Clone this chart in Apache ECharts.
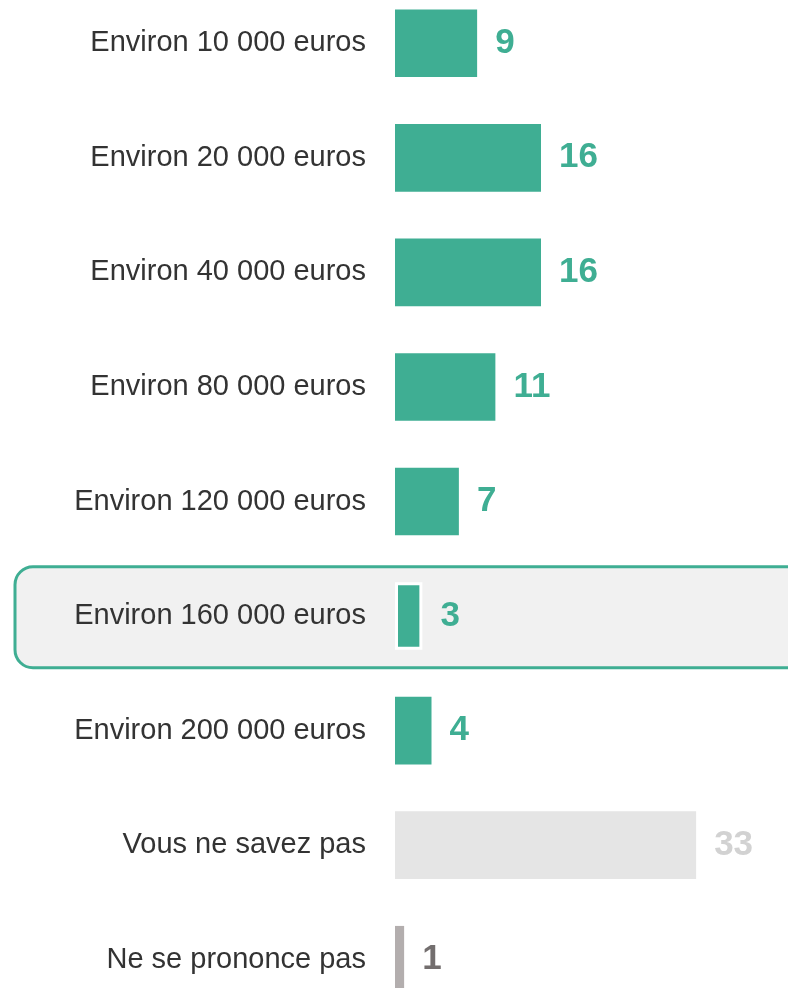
<!DOCTYPE html>
<html>
<head>
<meta charset="utf-8">
<script src="https://cdn.jsdelivr.net/npm/echarts@6/dist/echarts.min.js"></script>
<style>
html,body{margin:0;padding:0;background:#fff;}
#chart{width:788px;height:988px;}
</style>
</head>
<body>
<div id="chart"></div>
<script>
// Answer categories, top to bottom
const categories = [
  'Environ 10 000 euros',
  'Environ 20 000 euros',
  'Environ 40 000 euros',
  'Environ 80 000 euros',
  'Environ 120 000 euros',
  'Environ 160 000 euros',
  'Environ 200 000 euros',
  'Vous ne savez pas',
  'Ne se prononce pas'
];
// Share of respondents (%)
const values = [9, 16, 16, 11, 7, 3, 4, 33, 1];
// Index of the highlighted answer
const highlightIndex = 5;

const TEAL = '#3fae93';
const FONT = '"Liberation Sans", Arial, sans-serif';

function barColor(i) {
  if (i === 7) return '#e5e5e5';
  if (i === 8) return '#b3aeae';
  return TEAL;
}
function labelColor(i) {
  if (i === 7) return '#d2d2d2';
  if (i === 8) return '#736e6e';
  return TEAL;
}

const chart = echarts.init(document.getElementById('chart'), null, {renderer: 'canvas'});

const seriesData = values.map((v, i) => ({
  value: v,
  itemStyle: {
    color: barColor(i),
    borderColor: i === highlightIndex ? '#ffffff' : 'transparent',
    borderWidth: i === highlightIndex ? 3 : 0
  },
  label: { color: labelColor(i) }
}));

const gridLeft = 395, gridTop = -14, gridHeight = 1031, gridWidth = 365;
const band = gridHeight / categories.length;

chart.setOption({
  animation: false,
  backgroundColor: '#ffffff',
  graphic: [{
    type: 'rect',
    z: 0,
    shape: { x: 15, y: gridTop + band * highlightIndex + 8, width: 790, height: 101, r: 18 },
    style: { fill: '#f1f1f1', stroke: TEAL, lineWidth: 3 }
  }],
  grid: {
    left: gridLeft, top: gridTop, width: gridWidth, height: gridHeight,
    containLabel: false, outerBoundsMode: 'none'
  },
  xAxis: {
    type: 'value', min: 0, max: 40,
    show: false
  },
  yAxis: {
    type: 'category',
    inverse: true,
    data: categories,
    axisLine: { show: false },
    axisTick: { show: false },
    axisLabel: {
      margin: 29,
      fontFamily: FONT,
      fontSize: 29,
      color: '#333333',
      padding: [8, 0, 0, 0]
    }
  },
  series: [{
    type: 'bar',
    z: 5,
    data: seriesData,
    barWidth: '59%',
    label: {
      show: true,
      position: 'right',
      distance: 18,
      fontFamily: FONT,
      fontSize: 35,
      fontWeight: 'bold',
      padding: [10, 0, 0, 0]
    }
  }]
});
</script>
</body>
</html>
